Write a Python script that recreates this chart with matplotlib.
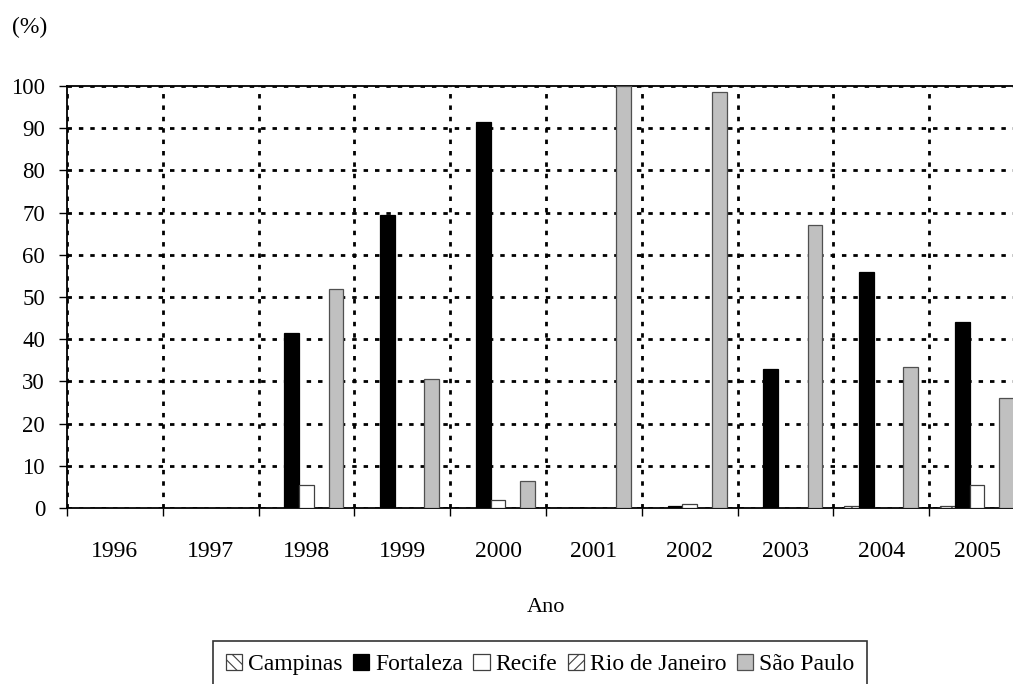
import matplotlib.pyplot as plt
import numpy as np

plt.rcParams['font.family'] = ['Liberation Serif', 'DejaVu Serif']
plt.rcParams['hatch.linewidth'] = 0.8

years = ['1996', '1997', '1998', '1999', '2000', '2001', '2002', '2003', '2004', '2005']
cities = ['Campinas', 'Fortaleza', 'Recife', 'Rio de Janeiro', 'São Paulo']

campinas = [0, 0, 0, 0, 0, 0, 0, 0, 0.5, 0.5]
fortaleza = [0, 0, 41.5, 69.5, 91.5, 0, 0.5, 33, 56, 44]
recife = [0, 0, 5.5, 0, 2, 0, 1, 0, 0, 5.5]
rio = [0, 0, 0, 0, 0, 0, 0, 0, 0, 0]
sao_paulo = [0, 0, 52, 30.5, 6.5, 100, 98.5, 67, 33.5, 26]

series = [campinas, fortaleza, recife, rio, sao_paulo]
faces = ['white', 'black', 'white', 'white', '#c0c0c0']
edges = ['#404040', 'black', '#404040', '#404040', '#505050']
hatches = ['\\\\\\', None, None, '///', None]

W, H = 1013, 684
fig = plt.figure(figsize=(W / 100, H / 100), dpi=100)
ax = fig.add_axes([67 / W, 1 - 508 / H, (1025 - 67) / W, (508 - 86) / H])

x = np.arange(len(years))
bw = 1 / 6.5
for i, vals in enumerate(series):
    ax.bar(x - 0.5 + 0.75 * bw + (i + 0.5) * bw, vals, bw, color=faces[i],
           edgecolor=edges[i], linewidth=0.9, hatch=hatches[i], label=cities[i], zorder=3)

ax.set_xlim(-0.5, len(years) - 0.5)
ax.set_ylim(0, 100)
ax.set_yticks(np.arange(0, 101, 10))
ax.set_xticks(np.arange(-0.5, len(years), 1))
ax.set_xticklabels([])
ax.set_xticks(x, minor=True)
ax.set_xticklabels(years, minor=True)
ax.tick_params(axis='x', which='minor', length=0, pad=23.5, labelsize=17)
ax.tick_params(axis='x', which='major', length=5.8, width=1, direction='out')
ax.tick_params(axis='y', length=5.8, width=1, direction='out', labelsize=16.5, pad=10)

ax.grid(True, axis='both', which='major', color='black', linewidth=2.0,
        linestyle=(0, (1.6, 2.5)), zorder=1)
for s in ['left', 'bottom', 'top']:
    ax.spines[s].set_linewidth(1.3)
ax.spines['right'].set_visible(False)

ax.set_xlabel('Ano', fontsize=16, labelpad=26)
fig.text(12 / W, 1 - 27 / H, '(%)', fontsize=17, va='center', ha='left')

leg = fig.legend(loc='upper center', bbox_to_anchor=(540 / W, 1 - 641 / H), ncol=5,
                 fontsize=17, frameon=True, fancybox=False, edgecolor='black',
                 handlelength=0.68, handleheight=0.68, handletextpad=0.25,
                 columnspacing=0.45, borderpad=0.55, borderaxespad=0)
leg.get_frame().set_linewidth(1.2)

fig.savefig('out.png', dpi=100)
